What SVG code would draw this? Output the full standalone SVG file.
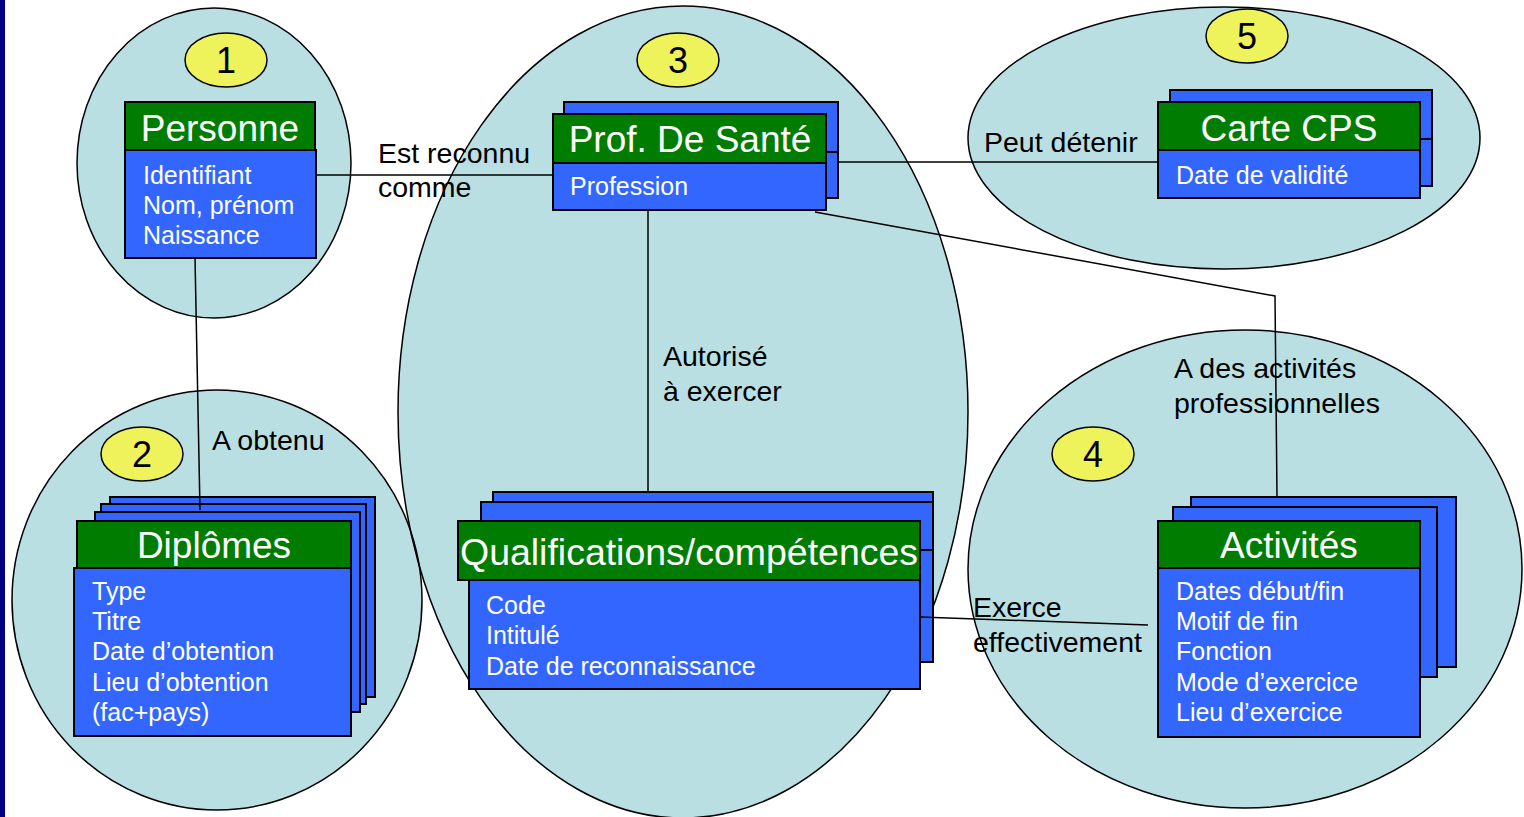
<svg xmlns="http://www.w3.org/2000/svg" width="1524" height="817" viewBox="0 0 1524 817">
<style>
.zone{fill:#b9dfe3;stroke:none}
.zl{fill:none;stroke:#000;stroke-width:1.5}
.badge{fill:#eef35c;stroke:#000;stroke-width:1.5}
.num{font-family:"Liberation Sans",Arial,sans-serif;font-size:36px;fill:#000;text-anchor:middle}
.hd{fill:#007d00;stroke:#000;stroke-width:2}
.bd{fill:#3366ff;stroke:#000;stroke-width:2}
.ttl{font-family:"Liberation Sans",Arial,sans-serif;font-size:37px;fill:#fff;text-anchor:middle}
.att{font-family:"Liberation Sans",Arial,sans-serif;font-size:25px;fill:#fff}
.lbl{font-family:"Liberation Sans",Arial,sans-serif;font-size:28.5px;fill:#000}
.cn{fill:none;stroke:#000;stroke-width:1.5}
</style>
<rect x="0" y="0" width="1524" height="817" fill="#fff"/>
<rect x="0" y="0" width="5" height="817" fill="#000080"/>
<g id="zones">
<ellipse class="zone" cx="214" cy="163" rx="137" ry="155"/>
<ellipse class="zone" cx="217" cy="600" rx="205" ry="210"/>
<ellipse class="zone" cx="683" cy="412" rx="285" ry="406"/>
<ellipse class="zone" cx="1224" cy="138" rx="256" ry="131"/>
<ellipse class="zone" cx="1245" cy="569" rx="277" ry="239"/>
<ellipse class="zl" cx="214" cy="163" rx="137" ry="155"/>
<ellipse class="zl" cx="217" cy="600" rx="205" ry="210"/>
<ellipse class="zl" cx="683" cy="412" rx="285" ry="406"/>
<ellipse class="zl" cx="1224" cy="138" rx="256" ry="131"/>
<ellipse class="zl" cx="1245" cy="569" rx="277" ry="239"/>
</g>
<g id="badges">
<ellipse class="badge" cx="226" cy="60" rx="41" ry="27"/><text class="num" x="226" y="73">1</text>
<ellipse class="badge" cx="142" cy="454" rx="41" ry="27"/><text class="num" x="142" y="467">2</text>
<ellipse class="badge" cx="678" cy="60" rx="41" ry="27"/><text class="num" x="678" y="73">3</text>
<ellipse class="badge" cx="1093" cy="454" rx="41" ry="27"/><text class="num" x="1093" y="467">4</text>
<ellipse class="badge" cx="1247" cy="36" rx="41" ry="27"/><text class="num" x="1247" y="49">5</text>
</g>
<g id="personne">
<rect class="hd" x="125" y="102" width="190" height="48"/>
<rect class="bd" x="125" y="150" width="191" height="108"/>
<text class="ttl" x="220" y="141">Personne</text>
<text class="att" x="143" y="184">Identifiant</text>
<text class="att" x="143" y="214">Nom, prénom</text>
<text class="att" x="143" y="244">Naissance</text>
</g>
<g id="diplomes">
<rect class="bd" x="110" y="497" width="265" height="200"/>
<rect class="bd" x="101" y="504" width="265" height="200"/>
<rect class="bd" x="95" y="512" width="265" height="200"/>
<rect class="hd" x="77" y="521" width="274" height="47"/>
<rect class="bd" x="74" y="568" width="277" height="168"/>
<text class="ttl" x="214" y="558">Diplômes</text>
<text class="att" x="92" y="600">Type</text>
<text class="att" x="92" y="630">Titre</text>
<text class="att" x="92" y="660">Date d’obtention</text>
<text class="att" x="92" y="691">Lieu d’obtention</text>
<text class="att" x="92" y="721">(fac+pays)</text>
</g>
<g id="profsante">
<rect class="bd" x="564" y="102" width="274" height="96"/>
<line x1="564" y1="152" x2="838" y2="152" stroke="#000" stroke-width="2"/>
<rect class="hd" x="553" y="114" width="273" height="49"/>
<rect class="bd" x="553" y="163" width="273" height="47"/>
<text class="ttl" x="690" y="152">Prof. De Santé</text>
<text class="att" x="570" y="195">Profession</text>
</g>
<g id="qualifications">
<rect class="bd" x="493" y="492" width="440" height="170"/>
<line x1="493" y1="550" x2="933" y2="550" stroke="#000" stroke-width="2"/>
<rect class="bd" x="481" y="502" width="452" height="160"/>
<line x1="481" y1="550" x2="933" y2="550" stroke="#000" stroke-width="2"/>
<rect class="hd" x="458" y="521" width="462" height="59"/>
<rect class="bd" x="469" y="580" width="451" height="109"/>
<text class="ttl" x="689" y="565" textLength="458" lengthAdjust="spacingAndGlyphs">Qualifications/compétences</text>
<text class="att" x="486" y="614">Code</text>
<text class="att" x="486" y="644">Intitulé</text>
<text class="att" x="486" y="675">Date de reconnaissance</text>
</g>
<g id="cartecps">
<rect class="bd" x="1170" y="90" width="262" height="96"/>
<line x1="1170" y1="139" x2="1432" y2="139" stroke="#000" stroke-width="2"/>
<rect class="hd" x="1158" y="102" width="262" height="48"/>
<rect class="bd" x="1158" y="150" width="262" height="48"/>
<text class="ttl" x="1289" y="141">Carte CPS</text>
<text class="att" x="1176" y="184">Date de validité</text>
</g>
<g id="activites">
<rect class="bd" x="1191" y="497" width="265" height="170"/>
<rect class="bd" x="1173" y="507" width="264" height="170"/>
<rect class="hd" x="1158" y="521" width="262" height="47"/>
<rect class="bd" x="1158" y="568" width="262" height="169"/>
<text class="ttl" x="1289" y="558">Activités</text>
<text class="att" x="1176" y="600">Dates début/fin</text>
<text class="att" x="1176" y="630">Motif de fin</text>
<text class="att" x="1176" y="660">Fonction</text>
<text class="att" x="1176" y="691">Mode d’exercice</text>
<text class="att" x="1176" y="721">Lieu d’exercice</text>
</g>
<g id="connectors">
<line class="cn" x1="316" y1="175" x2="553" y2="175"/>
<line class="cn" x1="195" y1="258" x2="200" y2="510"/>
<line class="cn" x1="648" y1="210" x2="648" y2="492"/>
<line class="cn" x1="838" y1="162" x2="1158" y2="162"/>
<polyline class="cn" points="815,212 1275,296 1277,497"/>
<line class="cn" x1="920" y1="617" x2="1148" y2="625"/>
</g>
<g id="labels">
<text class="lbl" x="378" y="163">Est reconnu</text>
<text class="lbl" x="378" y="197">comme</text>
<text class="lbl" x="984" y="152">Peut détenir</text>
<text class="lbl" x="663" y="366">Autorisé</text>
<text class="lbl" x="663" y="401">à exercer</text>
<text class="lbl" x="212" y="450">A obtenu</text>
<text class="lbl" x="1174" y="378">A des activités</text>
<text class="lbl" x="1174" y="413">professionnelles</text>
<text class="lbl" x="973" y="617">Exerce</text>
<text class="lbl" x="973" y="652">effectivement</text>
</g>
</svg>
